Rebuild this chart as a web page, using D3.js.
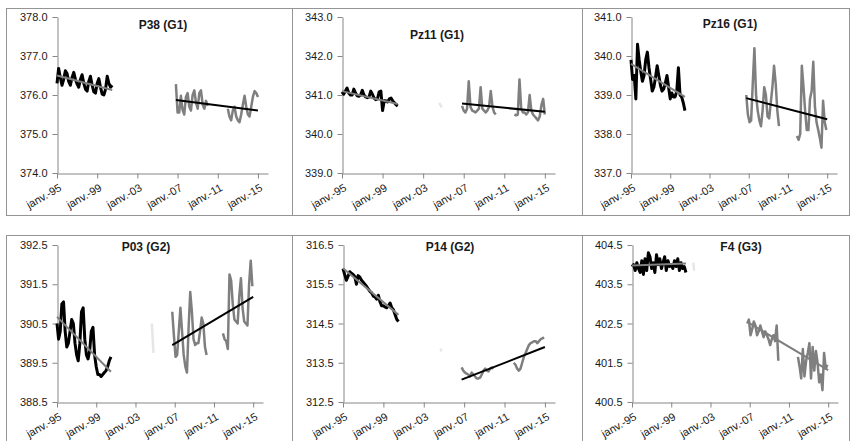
<!DOCTYPE html>
<html>
<head>
<meta charset="utf-8">
<script src="https://cdn.jsdelivr.net/npm/d3@7"></script>
<style>
  body { margin: 0; background: #fff; }
  svg { display: block; font-family: "Liberation Sans", Arial, sans-serif; }
</style>
</head>
<body>
<div id="chart"></div>
<script>
////////////////////////////////////////////////////////////////////
////////////////////////////  Data  ////////////////////////////////

const titles = ["P38 (G1)", "Pz11 (G1)", "Pz16 (G1)", "P03 (G2)", "P14 (G2)", "F4 (G3)"];

const yTicks = [
  [374, 375, 376, 377, 378],
  [339, 340, 341, 342, 343],
  [337, 338, 339, 340, 341],
  [388.5, 389.5, 390.5, 391.5, 392.5],
  [312.5, 313.5, 314.5, 315.5, 316.5],
  [400.5, 401.5, 402.5, 403.5, 404.5],
];

const xTicks = ["1995-01", "1999-01", "2003-01", "2007-01", "2011-01", "2015-01"];
const xTickLabels = ["janv.-95", "janv.-99", "janv.-03", "janv.-07", "janv.-11", "janv.-15"];

// first period (black), one value every 2 months from janv. 1995
const earlyStart = "1995-01";
const earlyP38 = [376.3, 376.68, 376.45, 376.25, 376.4, 376.62,
  376.55, 376.35, 376.25, 376.45, 376.58, 376.4,
  376.28, 376.2, 376.4, 376.52, 376.3, 376.15,
  376.1, 376.35, 376.48, 376.25, 376.08, 376.05,
  376.3, 376.42, 376.2, 376.02, 376.0, 376.15,
  376.48, 376.3, 376.2, 376.25];
const earlyPz11 = [341.08, 341.02, 341.1, 341.18, 341.05, 341.0,
  341.0, 341.15, 341.05, 340.98, 340.97, 341.0,
  341.12, 341.0, 340.95, 340.93, 340.95, 341.1,
  341.02, 340.92, 340.88, 340.9, 341.08, 341.1,
  340.6, 340.85, 340.85, 340.82, 340.9, 340.92,
  340.85, 340.8, 340.75, 340.72];
const earlyPz16 = [339.9, 339.4, 339.5, 338.9, 340.3, 339.9,
  339.6, 339.35, 339.5, 339.9, 340.1, 339.7,
  339.4, 339.1, 339.2, 339.45, 339.75, 339.5,
  339.25, 339.1, 339.15, 339.3, 339.5, 339.2,
  338.9, 339.05, 338.95, 338.95, 339.1, 339.7,
  339.0, 338.95, 338.8, 338.6];
const earlyP03 = [390.5, 390.1, 390.3, 391.0, 391.05, 390.3,
  389.9, 390.0, 390.3, 390.6, 390.5, 390.0,
  389.7, 389.55, 390.0, 390.8, 390.9, 390.1,
  389.7, 389.6, 389.8, 390.3, 390.4, 389.7,
  389.4, 389.2, 389.2, 389.15, 389.2, 389.25,
  389.3, 389.4, 389.55, 389.65];
const earlyP14 = [315.9, 315.75, 315.6, 315.7, 315.82, 315.78,
  315.75, 315.7, 315.5, 315.72, 315.68, 315.6,
  315.55, 315.5, 315.45, 315.38, 315.32, 315.28,
  315.2, 315.18, 315.12, 315.22, 315.05, 314.95,
  314.95, 314.92, 314.9, 314.95, 315.02, 314.9,
  314.85, 314.72, 314.6, 314.55];
const earlyF4 = [403.95, 404.0, 403.85, 404.05, 403.9, 403.8,
  404.1, 403.75, 404.15, 403.85, 404.3, 404.2,
  403.9, 404.05, 403.8, 404.25, 404.0, 404.15,
  403.9, 404.05, 404.2, 403.85, 404.1, 403.95,
  404.0, 403.9, 404.1, 403.95, 404.15, 403.85,
  404.05, 403.9, 403.95, 403.8];

// second period (grey), one value every 2 months, null = no measure
const lateStart = ["2006-11", "2006-11", "2006-10", "2006-10", "2006-10", "2006-10"];
const lateP38 = [376.28,
  375.55, 375.55, 375.98, 375.62, 375.5, 375.95,
  376.05, 375.7, 375.6, 376.0, 376.12, 375.8,
  375.65, 376.05, 376.12, 375.75, 375.65, 375.85,
  375.72,
  null, null, null, null, null, null, null, null, null, null, null,
  375.65, 375.45, 375.35, 375.6, 375.7, 375.45,
  375.35, 375.3, 375.5, 375.75, 375.98, 375.7,
  375.5, 375.45, 375.7, 375.95, 376.1, 376.05,
  375.95];
const latePz11 = [340.72,
  340.6, 340.55, 340.65, 341.35, 340.7, 340.6,
  340.58, 340.55, 340.6, 340.65, 341.2, 340.65,
  340.6, 340.55, 340.6, 340.7, 341.1, 340.7,
  340.55, 340.5,
  null, null, null, null, null, null, null, null, null, null,
  340.5, 340.48, 340.5, 341.4, 340.65, 340.55,
  340.55, 340.5, 340.55, 341.0, 340.6, 340.5,
  340.45, 340.4, 340.35, 340.45, 340.75, 340.9,
  340.5];
const latePz16 = [339.0, 338.5, 338.3, 338.35, 339.3, 340.2, 339.0, 338.6, 338.35, 338.2,
  338.6, 339.2, 339.0, 338.45, 338.4, 338.8, 339.2, 339.75, 339.3, 338.6, 338.2,
  null, null, null, null, null, null, null, null, null, null,
  337.95, 337.85, 338.0, 339.75, 339.2, 338.6, 338.1, 338.1, 338.9, 339.1,
  339.85, 338.7, 338.3, 338.1, 337.9, 337.65, 338.85, 338.3, 338.1];
const lateP03 = [390.8, 390.2, 389.65, 389.7, 390.3, 390.9, 390.3, 389.7, 389.4, 389.25, 390.4,
  391.3, 390.8, 390.1, 389.95, 390.0, 390.0, 390.3, 390.65, 390.5, 389.9, 389.7,
  null, null, null, null, null, null, null, null, null,
  390.25, 390.1, 390.05, 389.85, 391.75, 391.6, 391.0, 390.6, 390.55, 390.5,
  391.2, 391.65, 390.9, 390.55, 390.5, 390.45, 391.5, 392.1, 391.45];
const lateP14 = [313.38, 313.3, 313.25, 313.22, 313.2, 313.15, 313.25, 313.2, 313.15, 313.1,
  313.1, 313.12, 313.2, 313.3, 313.35, 313.3, 313.28, 313.35, 313.38, 313.35,
  null, null, null, null, null, null, null, null, null, null, null,
  313.5, 313.45, 313.35, 313.3, 313.35, 313.5, 313.65, 313.75, 313.85, 313.95,
  314.0, 314.02, 314.05, 314.05, 314.0, 314.05, 314.1, 314.12, 314.15];
const lateF4 = [402.5, 402.6, 402.2, 402.35, 402.55, 402.45, 402.2, 402.3, 402.45, 402.3,
  402.15, 402.3, 402.2, 402.1, 401.95, 402.1, 402.2, 402.05, 402.45, 401.55,
  null, null, null, null, null, null, null, null, null, null, null,
  401.65, 401.4, 401.1, 401.85, 401.15, 401.55, 401.75, 402.0, 401.1, 401.9,
  401.3, 401.8, 401.5, 401.0, 401.2, 400.8, 401.75, 401.35, 401.45];

// linear trends : [start value, end value]
const earlyTrendDates = ["1995-01", "2000-07"];
const earlyTrend = [[376.5, 376.13], [341.1, 340.77], [339.8, 338.95], [390.67, 389.27], [315.91, 314.72], [403.98, 404.03]];
const lateTrendEnd = "2015-01";
const lateTrend = [[375.87, 375.6], [340.78, 340.57], [338.92, 338.38], [389.95, 391.18], [313.07, 313.9], [402.54, 401.31]];

// very light marks around 2001-2005
const faintDates = [null, ["2004-08", "2004-11"], null, ["2004-09", "2004-11"], ["2004-09", "2004-10"], ["2001-04", "2001-05"]];
const faintValues = [null, [340.8, 340.68], null, [390.5, 389.75], [313.86, 313.79], [404.05, 403.85]];

const earlySeries = [earlyP38, earlyPz11, earlyPz16, earlyP03, earlyP14, earlyF4];
const lateSeries = [lateP38, latePz11, latePz16, lateP03, lateP14, lateF4];

////////////////////////////////////////////////////////////////////
////////////////////////////  Layout  //////////////////////////////

const width = 851;
const height = 441;

const frameX = [[6, 292], [292, 582], [582, 849], [6, 292], [292, 582], [582, 849]];
const frameY = [[8, 215], [8, 215], [8, 215], [235, 442], [235, 442], [235, 442]];
const plotX = [[57, 268], [342, 555], [631, 837], [57, 263], [343, 555], [632, 838]];
const plotY = [[173, 17], [173, 17], [173, 17], [402, 245], [402, 245], [402, 245]];
const titlePos = [[163, 29], [437, 39], [730, 28], [146, 251], [450, 251], [741, 251]];

const black = "#000";
const grey = "#7f7f7f";
const lateTrendColor = [black, black, black, black, black, grey];

const parseMonth = d3.utcParse("%Y-%m");
const toPoints = (start, values) =>
  values.map((v, i) => ({ date: d3.utcMonth.offset(parseMonth(start), i * 2), v }));

const svg = d3.select("#chart").append("svg")
  .attr("width", width)
  .attr("height", height);

titles.forEach((title, p) => {
  const g = svg.append("g");

  // frame
  g.append("rect")
    .attr("x", frameX[p][0] + 0.5)
    .attr("y", frameY[p][0] + 0.5)
    .attr("width", frameX[p][1] - frameX[p][0])
    .attr("height", frameY[p][1] - frameY[p][0])
    .attr("fill", "none")
    .attr("stroke", "#959595");

  const x = d3.scaleUtc()
    .domain([parseMonth("1995-01"), parseMonth("2016-01")])
    .range(plotX[p]);
  const y = d3.scaleLinear()
    .domain([yTicks[p][0], yTicks[p][yTicks[p].length - 1]])
    .range(plotY[p]);

  // y axis
  const yAxis = g.append("g")
    .attr("transform", `translate(${plotX[p][0] + 0.5},0)`)
    .call(d3.axisLeft(y).tickValues(yTicks[p]).tickFormat(d3.format(".1f"))
      .tickSize(5).tickSizeOuter(0).tickPadding(5));

  // x axis
  const xAxis = g.append("g")
    .attr("transform", `translate(0,${plotY[p][0] + 0.5})`)
    .call(d3.axisBottom(x).tickValues(xTicks.map(parseMonth))
      .tickFormat((d, i) => xTickLabels[i]).tickSize(5).tickSizeOuter(0));

  xAxis.selectAll("text")
    .attr("x", 0).attr("y", 0).attr("dy", "0.35em")
    .attr("transform", "translate(3,13) rotate(-30)")
    .style("text-anchor", "end");

  [xAxis, yAxis].forEach((a) => {
    a.select(".domain").attr("stroke", "#868686");
    a.selectAll(".tick line").attr("stroke", "#868686");
    a.selectAll("text").attr("fill", "#1a1a1a").style("font-size", "11px")
      .style("font-family", "'Liberation Sans', Arial, sans-serif");
  });

  const line = d3.line()
    .defined((d) => d.v != null)
    .x((d) => x(d.date))
    .y((d) => y(d.v));

  // faint marks
  if (faintDates[p]) {
    g.append("path")
      .datum(faintDates[p].map((d, i) => ({ date: parseMonth(d), v: faintValues[p][i] })))
      .attr("d", line)
      .attr("fill", "none")
      .attr("stroke", "#e6e6e6")
      .attr("stroke-width", 2.5);
  }

  // first period series + grey trend
  g.append("path")
    .datum(toPoints(earlyStart, earlySeries[p]))
    .attr("d", line)
    .attr("fill", "none")
    .attr("stroke", black)
    .attr("stroke-width", 3)
    .attr("stroke-linejoin", "round");

  g.append("path")
    .datum(earlyTrendDates.map((d, i) => ({ date: parseMonth(d), v: earlyTrend[p][i] })))
    .attr("d", line)
    .attr("fill", "none")
    .attr("stroke", grey)
    .attr("stroke-width", 2);

  // second period series + trend
  g.append("path")
    .datum(toPoints(lateStart[p], lateSeries[p]))
    .attr("d", line)
    .attr("fill", "none")
    .attr("stroke", grey)
    .attr("stroke-width", 2.5)
    .attr("stroke-linejoin", "round");

  g.append("path")
    .datum([lateStart[p], lateTrendEnd].map((d, i) => ({ date: parseMonth(d), v: lateTrend[p][i] })))
    .attr("d", line)
    .attr("fill", "none")
    .attr("stroke", lateTrendColor[p])
    .attr("stroke-width", 2);

  // title
  g.append("text")
    .attr("x", titlePos[p][0])
    .attr("y", titlePos[p][1])
    .attr("text-anchor", "middle")
    .style("font-size", "12px")
    .style("font-weight", "bold")
    .attr("fill", "#1a1a1a")
    .text(title);
});
</script>
</body>
</html>
